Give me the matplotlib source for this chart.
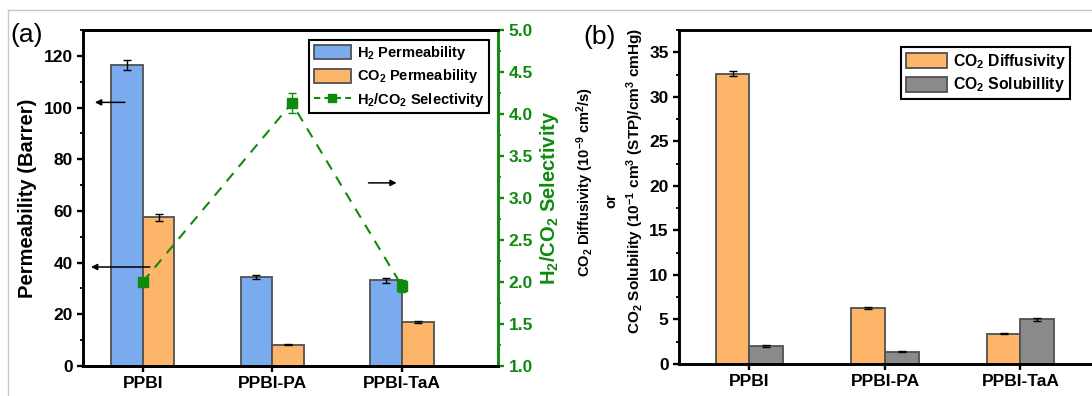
import matplotlib
matplotlib.use("Agg")
import matplotlib.pyplot as plt
from matplotlib.lines import Line2D
from matplotlib.patches import Patch
from matplotlib.ticker import MultipleLocator
import numpy as np

# 数据
samples = ["PPBI", "PPBI-PA", "PPBI-TaA"]
h2_perm = [116.5, 34.5, 33.2]
h2_perm_err = [2.0, 0.9, 1.0]
co2_perm = [57.5, 8.3, 17.0]
co2_perm_err = [1.4, 0.3, 0.4]
sel_pos = [0, 1.15, 2]
selectivity = [2.0, 4.13, 1.95]
selectivity_err = [0.03, 0.12, 0.07]

co2_diff = [32.6, 6.3, 3.4]
co2_diff_err = [0.3, 0.1, 0.05]
co2_sol = [2.0, 1.4, 5.0]
co2_sol_err = [0.08, 0.07, 0.15]

BLUE = "#7aabef"
ORANGE = "#fdb56a"
GRAY = "#8a8a8a"
EDGE = "#505050"
GREEN = "#0f8a0f"

plt.rcParams["font.family"] = ["Liberation Sans", "DejaVu Sans"]
plt.rcParams["font.weight"] = "bold"
plt.rcParams["mathtext.fontset"] = "custom"
plt.rcParams["mathtext.bf"] = "Liberation Sans:bold"
plt.rcParams["mathtext.rm"] = "Liberation Sans:bold"
plt.rcParams["mathtext.default"] = "bf"


def style_axis(ax):
    for s in ax.spines.values():
        s.set_linewidth(2.1)
    ax.tick_params(which="major", direction="out", length=4, width=1.7, labelsize=12.5)
    ax.tick_params(which="minor", direction="out", length=2.5, width=1.3)
    ax.tick_params(axis="x", which="minor", bottom=False)
    for lab in ax.get_xticklabels() + ax.get_yticklabels():
        lab.set_fontweight("bold")


def main():
    fig = plt.figure(figsize=(10.92, 3.96), dpi=100)
    W, H = 1092, 396

    # 外框灰线
    fig.add_artist(Line2D([8 / W, 1], [1 - 10 / H, 1 - 10 / H], color="#c8c8c8", lw=1))
    fig.add_artist(Line2D([8 / W, 8 / W], [0, 1 - 10 / H], color="#c8c8c8", lw=1))

    draw_a(fig, W, H)
    draw_b(fig, W, H)

    fig.savefig("out.png", dpi=100)


def draw_a(fig, W, H):
    ax = fig.add_axes([83 / W, (H - 366) / H, 415 / W, 336 / H])
    x = np.arange(len(samples))
    w = 0.245
    ax.bar(x - w / 2, h2_perm, w, color=BLUE, edgecolor=EDGE, lw=1.3,
           yerr=h2_perm_err, capsize=3, error_kw=dict(ecolor="black", elinewidth=1, capthick=1))
    ax.bar(x + w / 2, co2_perm, w, color=ORANGE, edgecolor=EDGE, lw=1.3,
           yerr=co2_perm_err, capsize=3, error_kw=dict(ecolor="black", elinewidth=1, capthick=1))
    ax.set_xlim(-0.46, 2.74)
    ax.set_ylim(0, 130)
    ax.yaxis.set_major_locator(MultipleLocator(20))
    ax.yaxis.set_minor_locator(MultipleLocator(10))
    ax.set_xticks(x)
    ax.set_xticklabels(samples)
    ax.set_ylabel("Permeability (Barrer)", fontsize=14.5, fontweight="bold", labelpad=5)
    style_axis(ax)
    ax.spines["right"].set_visible(False)

    ax2 = ax.twinx()
    ax2.errorbar(sel_pos, selectivity, yerr=selectivity_err, color=GREEN, ls=(0, (5, 4)),
                 lw=1.5, marker="s", ms=7.5, capsize=3, elinewidth=1, capthick=1)
    ax2.set_ylim(1, 5)
    ax2.yaxis.set_major_locator(MultipleLocator(0.5))
    ax2.yaxis.set_minor_locator(MultipleLocator(0.25))
    ax2.yaxis.set_major_formatter(matplotlib.ticker.FormatStrFormatter("%.1f"))
    style_axis(ax2)
    ax2.spines["right"].set_color(GREEN)
    ax2.spines["left"].set_visible(False)
    ax2.tick_params(axis="y", which="both", colors=GREEN)
    for lab in ax2.get_yticklabels():
        lab.set_color(GREEN)
    ax2.set_ylabel("H$_2$/CO$_2$ Selectivity", fontsize=14.5, fontweight="bold", color=GREEN, labelpad=4)

    # 箭头
    ap = dict(arrowstyle="-|>", color="black", lw=1.1, mutation_scale=9)
    ax.annotate("", xy=(-0.39, 102), xytext=(-0.115, 102), arrowprops=ap)
    ax.annotate("", xy=(-0.42, 38.3), xytext=(0.077, 38.3), arrowprops=ap)
    ax2.annotate("", xy=(1.98, 3.18), xytext=(1.72, 3.18), arrowprops=ap)

    handles = [Patch(facecolor=BLUE, edgecolor=EDGE, lw=1.3, label="H$_2$ Permeability"),
               Patch(facecolor=ORANGE, edgecolor=EDGE, lw=1.3, label="CO$_2$ Permeability"),
               Line2D([], [], color=GREEN, ls=(0, (3, 2)), lw=1.5, marker="s", ms=6,
                      label="H$_2$/CO$_2$ Selectivity")]
    leg = ax2.legend(handles=handles, loc="upper right", bbox_to_anchor=(1 - 9 / 415, 1 - 10 / 336),
                     borderaxespad=0, fancybox=False, framealpha=1, edgecolor="black",
                     prop=dict(size=10.5, weight="bold"), handlelength=2.6, handleheight=1.1,
                     handletextpad=0.4, labelspacing=0.35, borderpad=0.3)
    leg.get_frame().set_linewidth(1.5)

    fig.text(10 / W, 1 - 35 / H, "(a)", fontsize=19, fontweight="normal", va="center", ha="left")


def draw_b(fig, W, H):
    ax = fig.add_axes([679 / W, (H - 364) / H, 416 / W, 334 / H])
    x = np.arange(len(samples))
    w = 0.25
    ax.bar(x - w / 2, co2_diff, w, color=ORANGE, edgecolor=EDGE, lw=1.3,
           yerr=co2_diff_err, capsize=3, error_kw=dict(ecolor="black", elinewidth=1, capthick=1))
    ax.bar(x + w / 2, co2_sol, w, color=GRAY, edgecolor=EDGE, lw=1.3,
           yerr=co2_sol_err, capsize=3, error_kw=dict(ecolor="black", elinewidth=1, capthick=1))
    ax.set_xlim(-0.52, 2.55)
    ax.set_ylim(0, 37.5)
    ax.yaxis.set_major_locator(MultipleLocator(5))
    ax.yaxis.set_minor_locator(MultipleLocator(2.5))
    ax.set_xticks(x)
    ax.set_xticklabels(samples)
    style_axis(ax)
    ax.tick_params(axis="y", which="both", right=False)

    # y轴标题分三行
    fig.text(585 / W, 1 - 182 / H, "CO$_2$ Diffusivity (10$^{-9}$ cm$^2$/s)",
             rotation=90, fontsize=10.5, fontweight="bold", ha="center", va="center")
    fig.text(611 / W, 1 - 201 / H, "or",
             rotation=90, fontsize=10.5, fontweight="bold", ha="center", va="center")
    fig.text(635 / W, 1 - 181 / H, "CO$_2$ Solubility (10$^{-1}$ cm$^3$ (STP)/cm$^3$ cmHg)",
             rotation=90, fontsize=11.1, fontweight="bold", ha="center", va="center")

    handles = [Patch(facecolor=ORANGE, edgecolor=EDGE, lw=1.3, label="CO$_2$ Diffusivity"),
               Patch(facecolor=GRAY, edgecolor=EDGE, lw=1.3, label="CO$_2$ Solubillity")]
    leg = ax.legend(handles=handles, loc="upper left", bbox_to_anchor=((901 - 679) / 416, 1 - 17 / 334),
                    borderaxespad=0, fancybox=False, framealpha=1, edgecolor="black",
                    prop=dict(size=11.3, weight="bold"), handlelength=2.6, handleheight=1.1,
                    handletextpad=0.4, labelspacing=0.3, borderpad=0.3)
    leg.get_frame().set_linewidth(1.5)

    fig.text(583 / W, 1 - 37 / H, "(b)", fontsize=19, fontweight="normal", va="center", ha="left")


if __name__ == "__main__":
    main()
